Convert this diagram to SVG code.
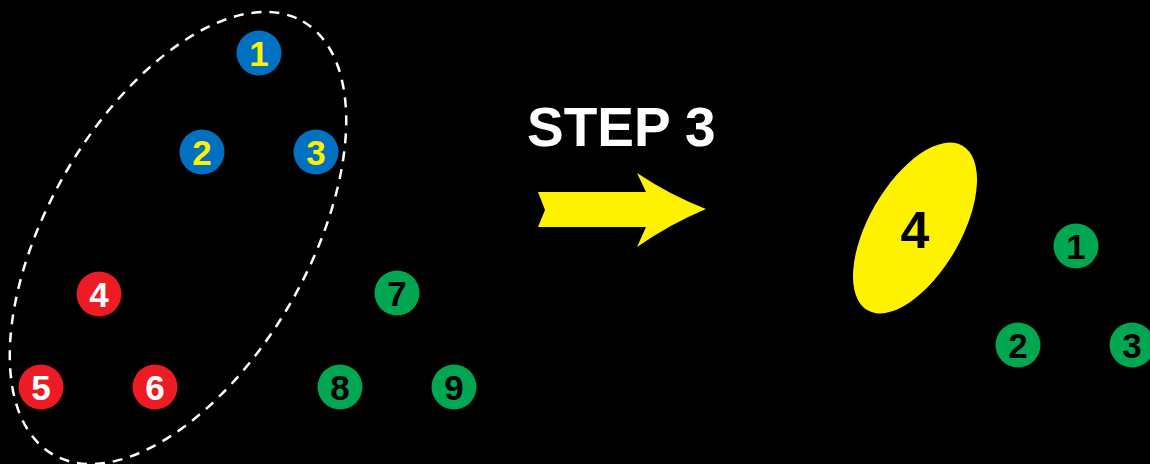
<svg xmlns="http://www.w3.org/2000/svg" width="1150" height="464" viewBox="0 0 1150 464">
  <style>
    .num { font-family: "Liberation Sans", Arial, sans-serif; font-weight: bold; font-size: 35px; text-anchor: middle; }
    .blue { fill: #0070C0; }
    .red { fill: #ED1C24; }
    .green { fill: #00A650; }
    .t-yellow { fill: #FFF200; }
    .t-white { fill: #FFFFFF; }
    .t-black { fill: #000000; }
    .title { font-family: "Liberation Sans", Arial, sans-serif; font-weight: bold; font-size: 55px; fill: #FFFFFF; }
  </style>
  <rect width="1150" height="464" fill="#000000"/>

  <!-- dashed cluster outline -->
  <ellipse cx="178" cy="238" rx="250" ry="130" transform="rotate(-60 178 238)" fill="none" stroke="#FFFFFF" stroke-width="2.5" stroke-dasharray="10 8"/>

  <!-- left set -->
  <g id="n1"><circle class="blue" cx="259" cy="53" r="22.5"/><text class="num t-yellow" x="259" y="66">1</text></g>
  <g id="n2"><circle class="blue" cx="202" cy="152" r="22.5"/><text class="num t-yellow" x="202" y="165">2</text></g>
  <g id="n3"><circle class="blue" cx="316" cy="152" r="22.5"/><text class="num t-yellow" x="316" y="165">3</text></g>
  <g id="n4"><circle class="red" cx="99" cy="294" r="22.5"/><text class="num t-white" x="99" y="307">4</text></g>
  <g id="n5"><circle class="red" cx="41" cy="387" r="22.5"/><text class="num t-white" x="41" y="400">5</text></g>
  <g id="n6"><circle class="red" cx="155" cy="387" r="22.5"/><text class="num t-white" x="155" y="400">6</text></g>
  <g id="n7"><circle class="green" cx="397" cy="293" r="22.5"/><text class="num t-black" x="397" y="306">7</text></g>
  <g id="n8"><circle class="green" cx="340" cy="387" r="22.5"/><text class="num t-black" x="340" y="400">8</text></g>
  <g id="n9"><circle class="green" cx="454" cy="387" r="22.5"/><text class="num t-black" x="454" y="400">9</text></g>

  <!-- step label and arrow -->
  <g id="step">
    <text class="title" x="527" y="146">STEP 3</text>
    <path d="M538,192 L646,192 L637,173 Q670,195 706,209 Q670,224 637,247 L646,227 L538,227 L545,210 Z" fill="#FFF200"/>
  </g>

  <!-- right set -->
  <g id="merged4">
    <ellipse cx="915" cy="228" rx="95" ry="46" transform="rotate(-60 915 228)" fill="#FFF200"/>
    <text class="num t-black" x="915" y="248" style="font-size:52px">4</text>
  </g>
  <g id="r1"><circle class="green" cx="1076" cy="246" r="22.5"/><text class="num t-black" x="1076" y="259">1</text></g>
  <g id="r2"><circle class="green" cx="1018" cy="345" r="22.5"/><text class="num t-black" x="1018" y="358">2</text></g>
  <g id="r3"><circle class="green" cx="1132" cy="345" r="22.5"/><text class="num t-black" x="1132" y="358">3</text></g>

  <!-- connectors -->
  <g id="connectors"></g>
</svg>
